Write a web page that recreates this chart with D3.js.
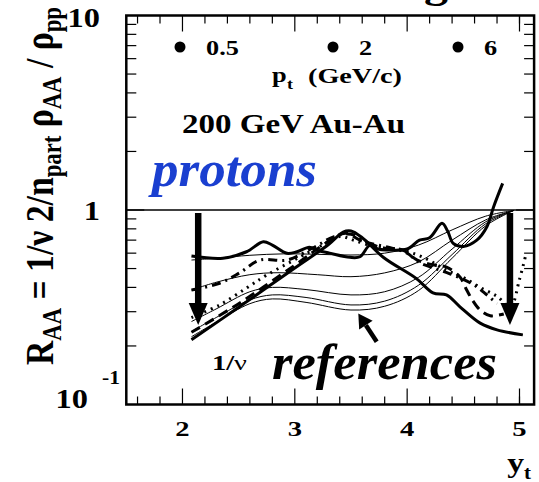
<!DOCTYPE html>
<meta charset="utf-8">
<style>
  svg text { font-family: "Liberation Serif", serif; font-weight: bold; }
</style>
<body style="margin:0;background:#fff">
<script src="https://cdn.jsdelivr.net/npm/d3@7/dist/d3.min.js"></script>
<script>

    var width = 539,
        height = 482;

    // axis ticks
    var xMajor = [2, 3, 4, 5];
    var xMinor = [1.6, 1.8, 2.2, 2.4, 2.6, 2.8, 3.2, 3.4, 3.6, 3.8, 4.2, 4.4, 4.6, 4.8, 5.0];
    var yMinor = [0.2, 0.3, 0.4, 0.5, 0.6, 0.7, 0.8, 0.9, 2, 3, 4, 5, 6, 7, 8, 9];
    var ptLabels = ["0.5", "2", "6"];

    // 1/nu reference curves (thin)
    var refA = [[2.08,0.553],[2.3,0.565],[2.6,0.585],[2.9,0.595],[3.2,0.592],[3.5,0.587],[3.8,0.6],[4.1,0.66],[4.4,0.79],[4.7,0.93],[4.95,0.995]];
    var refB = [[2.08,0.388],[2.3,0.425],[2.6,0.465],[2.85,0.476],[3.2,0.465],[3.5,0.454],[3.8,0.475],[4.1,0.54],[4.4,0.70],[4.7,0.89],[4.95,0.995]];
    var refC = [[2.08,0.267],[2.3,0.31],[2.6,0.38],[2.8,0.40],[3.1,0.39],[3.5,0.366],[3.8,0.38],[4.1,0.45],[4.4,0.63],[4.7,0.87],[4.95,0.995]];
    var refD = [[2.08,0.237],[2.3,0.28],[2.6,0.345],[2.8,0.366],[3.1,0.355],[3.5,0.325],[3.8,0.34],[4.1,0.41],[4.4,0.59],[4.7,0.85],[4.95,0.995]];
    var refE = [[2.08,0.223],[2.3,0.265],[2.6,0.33],[2.8,0.349],[3.1,0.335],[3.5,0.306],[3.8,0.32],[4.1,0.385],[4.4,0.565],[4.7,0.83],[4.95,0.995]];

    // proton data curves
    var solidA = [[2.08,0.58],[2.36,0.565],[2.57,0.61],[2.72,0.687],[2.8,0.66],[2.93,0.599],[3.02,0.61],[3.13,0.643],[3.2,0.62],[3.31,0.60],[3.49,0.571],[3.58,0.575],[3.67,0.66],[3.74,0.63],[3.82,0.623],[4.0,0.63],[4.11,0.70],[4.2,0.72],[4.31,0.854],[4.36,0.78],[4.41,0.674],[4.5,0.65],[4.62,0.70],[4.71,0.82],[4.77,1.04],[4.85,1.37]];
    var solidB = [[2.08,0.215],[2.5,0.316],[3.0,0.503],[3.3,0.665],[3.43,0.77],[3.5,0.78],[3.6,0.72],[3.79,0.57],[4.08,0.445],[4.23,0.375],[4.35,0.366],[4.47,0.318],[4.65,0.262],[4.8,0.242],[5.03,0.228]];
    var dashed = [[2.08,0.235],[2.5,0.33],[3.0,0.52],[3.3,0.69],[3.45,0.76],[3.58,0.70],[3.79,0.638],[3.96,0.623],[4.09,0.553],[4.25,0.52],[4.35,0.509],[4.47,0.452],[4.53,0.388],[4.58,0.345],[4.65,0.306],[4.74,0.286],[4.86,0.292]];
    var dotted = [[2.08,0.28],[2.33,0.325],[2.57,0.397],[2.75,0.463],[3.05,0.575],[3.22,0.648],[3.4,0.73],[3.52,0.70],[3.7,0.65],[3.9,0.63],[4.05,0.6],[4.2,0.55],[4.35,0.49],[4.5,0.45],[4.65,0.40],[4.8,0.36],[4.92,0.32],[5.0,0.44],[5.06,0.6]];
    var dashDot = [[2.08,0.388],[2.33,0.42],[2.51,0.476],[2.69,0.553],[2.93,0.553],[3.16,0.638],[3.35,0.73],[3.5,0.75],[3.65,0.68],[3.85,0.64],[4.0,0.6],[4.1,0.54],[4.25,0.50],[4.38,0.47],[4.5,0.44],[4.6,0.41],[4.7,0.37],[4.8,0.33]];

    // arrows in data coordinates
    var arrows = [
        {x0: 2.14, y0: 1, x1: 2.14, y1: 0.256, big: true},
        {x0: 4.915, y0: 1, x1: 4.915, y1: 0.256, big: true},
        {x0: 3.729, y0: 0.21, x1: 3.565, y1: 0.294, big: false}
    ];

    var x = d3.scaleLinear().domain([1.5, 5.13]).range([126.3, 534.1]);
    var y = d3.scaleLog().domain([0.1, 10]).range([404.5, 15.5]);

    var svg = d3.select("body").append("svg")
            .attr("width", width)
            .attr("height", height);

    var x0 = x.range()[0], x1 = x.range()[1],
        yb = y.range()[0], yt = y.range()[1];

    //刻度
    var ticks = svg.append("g").attr("stroke", "#000").attr("stroke-width", 1.2);
    xMajor.forEach(function(v) {
        ticks.append("line").attr("x1", x(v)).attr("x2", x(v)).attr("y1", yb).attr("y2", yb - 16);
        ticks.append("line").attr("x1", x(v)).attr("x2", x(v)).attr("y1", yt).attr("y2", yt + 16);
    });
    xMinor.forEach(function(v) {
        ticks.append("line").attr("x1", x(v)).attr("x2", x(v)).attr("y1", yb).attr("y2", yb - 8);
        ticks.append("line").attr("x1", x(v)).attr("x2", x(v)).attr("y1", yt).attr("y2", yt + 8);
    });
    yMinor.forEach(function(v) {
        ticks.append("line").attr("x1", x0).attr("x2", x0 + 10).attr("y1", y(v)).attr("y2", y(v));
        ticks.append("line").attr("x1", x1).attr("x2", x1 - 10).attr("y1", y(v)).attr("y2", y(v));
    });
    ticks.append("line").attr("x1", x0).attr("x2", x0 + 18).attr("y1", y(1)).attr("y2", y(1));
    ticks.append("line").attr("x1", x1).attr("x2", x1 - 18).attr("y1", y(1)).attr("y2", y(1));

    // line at 1
    svg.append("line")
            .attr("x1", x0).attr("x2", x1)
            .attr("y1", y(1)).attr("y2", y(1))
            .attr("stroke", "#000").attr("stroke-width", 1.5);

    var line = d3.line()
            .x(function(d) { return x(d[0]); })
            .y(function(d) { return y(d[1]); })
            .curve(d3.curveCatmullRom.alpha(0.5));

    var series = [
        {d: refA, w: 1, dash: null},
        {d: refB, w: 1, dash: null},
        {d: refC, w: 1, dash: null},
        {d: refD, w: 1, dash: null},
        {d: refE, w: 1, dash: null},
        {d: dashDot, w: 3, dash: "9,5,2,5"},
        {d: dotted, w: 3, dash: "2,5"},
        {d: dashed, w: 3, dash: "10,6"},
        {d: solidB, w: 3, dash: null},
        {d: solidA, w: 3, dash: null}
    ];

    svg.append("g").selectAll("path")
            .data(series)
            .enter().append("path")
            .attr("d", function(s) { return line(s.d); })
            .attr("fill", "none")
            .attr("stroke", "#000")
            .attr("stroke-width", function(s) { return s.w; })
            .attr("stroke-dasharray", function(s) { return s.dash; });

    //箭头
    arrows.forEach(function(a) {
        var p0 = [x(a.x0), y(a.y0)], p1 = [x(a.x1), y(a.y1)];
        var dx = p1[0] - p0[0], dy = p1[1] - p0[1], len = Math.sqrt(dx*dx + dy*dy);
        var ux = dx / len, uy = dy / len;
        var hl = a.big ? 22 : 14, hw = a.big ? 9.5 : 8, sw = a.big ? 6.5 : 4.5;
        var b = [p1[0] - ux*hl, p1[1] - uy*hl];
        svg.append("line")
                .attr("x1", p0[0]).attr("y1", p0[1] + (a.big ? 3 : 0))
                .attr("x2", b[0]).attr("y2", b[1])
                .attr("stroke", "#000").attr("stroke-width", sw);
        svg.append("path")
                .attr("d", "M" + p1 + "L" + [b[0] - uy*hw, b[1] + ux*hw] + "L" + [b[0] + uy*hw, b[1] - ux*hw] + "Z")
                .attr("fill", "#000");
    });

    // frame
    svg.append("rect")
            .attr("x", x0).attr("y", yt)
            .attr("width", x1 - x0).attr("height", yb - yt)
            .attr("fill", "none").attr("stroke", "#000").attr("stroke-width", 2.5);

    // text; sx stretches the glyphs sideways like the original
    function label(px, py, s, size, sx, anchor) {
        var t = svg.append("text")
                .attr("x", px).attr("y", py)
                .attr("font-size", size)
                .attr("text-anchor", anchor || "start")
                .text(s);
        if (sx && sx !== 1) {
            var w = t.node().getComputedTextLength();
            t.attr("textLength", w * sx).attr("lengthAdjust", "spacingAndGlyphs");
        }
        return t;
    }

    // x tick labels
    xMajor.forEach(function(v) {
        label(x(v), 436, String(v), 22, 1.3, "middle");
    });

    // y tick labels
    label(100, 27, "10", 27, 1.2, "end");
    label(100, 220, "1", 27, 1.2, "end");
    label(88, 408, "10", 27, 1.2, "end");
    label(102, 384, "-1", 18, 1.2, "start");

    // x axis title
    label(524, 472, "y", 28, 1.2, "end");
    label(524, 479, "t", 19, 1.1, "start");

    // y axis title
    var yt2 = svg.append("text")
            .attr("transform", "translate(53,365) rotate(-90)")
            .attr("font-size", 40);
    var parts = [["R", 0, 40], ["AA", 8, 27], [" = 1/\u03bd  2/n", -8, 40], ["part", 8, 27],
                 [" \u03c1", -8, 40], ["AA", 8, 27], [" / \u03c1", -8, 40], ["pp", 8, 27]];
    parts.forEach(function(p) {
        yt2.append("tspan").attr("dy", p[1]).attr("font-size", p[2]).text(p[0]);
    });
    yt2.attr("textLength", 358).attr("lengthAdjust", "spacingAndGlyphs");

    // legend
    var ptX = [180, 333, 458];
    ptLabels.forEach(function(s, i) {
        svg.append("circle").attr("cx", ptX[i]).attr("cy", 47).attr("r", 5.5).attr("fill", "#000");
        label(ptX[i] + 26, 55, s, 21, 1.25, "start");
    });
    label(272, 82, "p", 22, 1.2, "start");
    label(287, 89, "t", 15, 1.2, "start");
    label(308, 83, "(GeV/c)", 21, 1, "start").attr("textLength", 94).attr("lengthAdjust", "spacingAndGlyphs");

    label(182, 133, "200 GeV Au-Au", 27, 1, "start").attr("textLength", 223).attr("lengthAdjust", "spacingAndGlyphs");

    label(152, 186, "protons", 50, 1, "start")
            .attr("font-style", "italic")
            .attr("fill", "#1a3fd0")
            .attr("textLength", 165).attr("lengthAdjust", "spacingAndGlyphs");

    var nu = label(212, 370, "1/", 22, 1, "start");
    nu.append("tspan").style("font-weight", "normal").text("\u03bd");
    nu.attr("textLength", 35).attr("lengthAdjust", "spacingAndGlyphs");

    label(272, 379, "references", 50, 1, "start")
            .attr("font-style", "italic")
            .attr("textLength", 225).attr("lengthAdjust", "spacingAndGlyphs");

    // cut-off title above
    label(424, -3, "g", 40, 1.2, "start");

</script>
